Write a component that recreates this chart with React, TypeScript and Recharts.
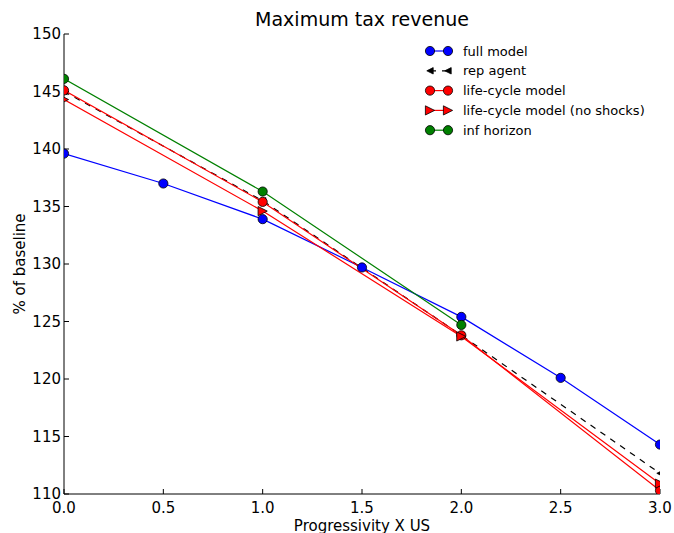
import React from "react";
import { LineChart, Line, XAxis, YAxis } from "recharts";

const xValues = [0, 0.5, 1, 1.5, 2, 2.5, 3];
const fullModel = [139.6, 137.0, 133.9, 129.7, 125.4, 120.1, 114.3];
const repAgent = [145.0, null, 135.5, null, 123.8, null, 111.8];
const lifeCycle = [145.1, null, 135.4, null, 123.8, null, 110.3];
const noShocks = [144.3, null, 134.6, null, 123.7, null, 110.9];
const infHorizon = [146.1, null, 136.3, null, 124.7, null, null];

const xTicks = [0, 0.5, 1, 1.5, 2, 2.5, 3];
const yTicks = [110, 115, 120, 125, 130, 135, 140, 145, 150];

const legendItems = [
  { name: "full model", color: "#0000ff", marker: "circle", dashed: false },
  { name: "rep agent", color: "#000000", marker: "left", dashed: true },
  { name: "life-cycle model", color: "#ff0000", marker: "circle", dashed: false },
  { name: "life-cycle model (no shocks)", color: "#ff0000", marker: "right", dashed: false },
  { name: "inf horizon", color: "#008000", marker: "circle", dashed: false },
];

const data = xValues.map((x, i) => ({
  x,
  full: fullModel[i],
  rep: repAgent[i],
  lc: lifeCycle[i],
  ns: noShocks[i],
  inf: infHorizon[i],
}));

const FONT = "DejaVu Sans, sans-serif";
const W = 674;
const H = 533;
// plot box layout
const M_TOP = 34;
const M_RIGHT = 14;
const Y_AXIS_W = 64;
const X_AXIS_H = 39;
const PLOT = { x: Y_AXIS_W, y: M_TOP, w: W - Y_AXIS_W - M_RIGHT, h: H - M_TOP - X_AXIS_H };

function Marker({ kind, cx, cy, color }: { kind: string; cx: number; cy: number; color: string }) {
  if (kind === "circle") {
    return <circle cx={cx} cy={cy} r={4.6} fill={color} stroke="#000" strokeWidth={0.8} />;
  }
  if (kind === "right") {
    const r = 4.6;
    return (
      <polygon
        points={`${cx + r},${cy} ${cx - r},${cy - r} ${cx - r},${cy + r}`}
        fill={color}
        stroke="#000"
        strokeWidth={0.8}
      />
    );
  }
  const r = 3.2;
  return (
    <polygon
      points={`${cx - r},${cy} ${cx + r},${cy - r} ${cx + r},${cy + r}`}
      fill={color}
      stroke="#000"
      strokeWidth={0.8}
    />
  );
}

// markers are clipped to the axes box, like matplotlib does
let dotSeq = 0;
const makeDot = (kind: string, color: string) => (props: any) => {
  const { cx, cy, key, payload, dataKey } = props;
  if (cx == null || cy == null || payload?.[dataKey] == null) return <g key={key} />;
  const id = `dotclip-${String(dataKey)}-${props.index ?? dotSeq++}`;
  return (
    <g key={key}>
      <defs>
        <clipPath id={id}>
          <rect x={PLOT.x} y={PLOT.y} width={PLOT.w} height={PLOT.h} />
        </clipPath>
      </defs>
      <g clipPath={`url(#${id})`}>
        <Marker kind={kind} cx={cx} cy={cy} color={color} />
      </g>
    </g>
  );
};

const XLabel = (props: any) => {
  const { viewBox } = props;
  return (
    <text x={viewBox.x + viewBox.width / 2} y={viewBox.y + 37} textAnchor="middle" fontSize={15} fontFamily={FONT} fill="#000">
      Progressivity X US
    </text>
  );
};

const YLabel = (props: any) => {
  const { viewBox } = props;
  const cx = viewBox.x + 20;
  const cy = viewBox.y + viewBox.height / 2;
  return (
    <text x={cx} y={cy} textAnchor="middle" dominantBaseline="central" transform={`rotate(-90 ${cx} ${cy})`} fontSize={15} fontFamily={FONT} fill="#000">
      % of baseline
    </text>
  );
};

const tickStyle = { fill: "#000", fontSize: 15, fontFamily: FONT };
const noTick = () => <g />;

function ChartLegend() {
  const rowTop = 51;
  const rowGap = 19.8;
  return (
    <svg width={W} height={H} style={{ position: "absolute", left: 0, top: 0, pointerEvents: "none" }}>
      {legendItems.map((item, i) => {
        const y = rowTop + i * rowGap;
        return (
          <g key={item.name}>
            <line x1={430} x2={448} y1={y} y2={y} stroke={item.color} strokeWidth={1.2} strokeDasharray={item.dashed ? "6 6" : undefined} />
            <Marker kind={item.marker} cx={430} cy={y} color={item.color} />
            <Marker kind={item.marker} cx={448} cy={y} color={item.color} />
            <text x={463} y={y} dominantBaseline="central" fontSize={13} fontFamily={FONT} fill="#000">
              {item.name}
            </text>
          </g>
        );
      })}
    </svg>
  );
}

export default function App() {
  return (
    <div style={{ position: "absolute", left: 0, top: 0, width: W, height: H, background: "#fff", fontFamily: FONT }}>
      <div style={{ position: "absolute", left: PLOT.x, width: PLOT.w, top: 7, textAlign: "center", fontSize: 19, lineHeight: "24px", color: "#000" }}>
        Maximum tax revenue
      </div>
      <LineChart width={W} height={H} data={data} margin={{ top: M_TOP, right: M_RIGHT, left: 0, bottom: 0 }}>
        <XAxis
          dataKey="x"
          type="number"
          domain={[0, 3]}
          ticks={xTicks}
          allowDataOverflow
          height={X_AXIS_H}
          tickSize={-5}
          tickMargin={13}
          tick={tickStyle}
          tickFormatter={(v: number) => v.toFixed(1)}
          stroke="#000"
          axisLine={{ stroke: "#000" }}
          tickLine={{ stroke: "#000" }}
          label={<XLabel />}
        />
        <XAxis
          xAxisId="top"
          orientation="top"
          dataKey="x"
          type="number"
          domain={[0, 3]}
          ticks={xTicks}
          height={0}
          tickSize={-5}
          tick={noTick}
          axisLine={{ stroke: "#000" }}
          tickLine={{ stroke: "#000" }}
        />
        <YAxis
          type="number"
          domain={[110, 150]}
          ticks={yTicks}
          allowDataOverflow
          width={Y_AXIS_W}
          tickSize={-5}
          tickMargin={8}
          tick={tickStyle}
          axisLine={{ stroke: "#000" }}
          tickLine={{ stroke: "#000" }}
          label={<YLabel />}
        />
        <YAxis
          yAxisId="right"
          orientation="right"
          type="number"
          domain={[110, 150]}
          ticks={yTicks}
          width={0}
          tickSize={-5}
          tick={noTick}
          axisLine={{ stroke: "#000" }}
          tickLine={{ stroke: "#000" }}
        />
        <Line dataKey="full" stroke="#0000ff" strokeWidth={1.2} connectNulls isAnimationActive={false} dot={makeDot("circle", "#0000ff")} />
        <Line dataKey="rep" stroke="#000" strokeWidth={1.2} strokeDasharray="6 6" connectNulls isAnimationActive={false} dot={makeDot("left", "#000")} />
        <Line dataKey="lc" stroke="#ff0000" strokeWidth={1.2} connectNulls isAnimationActive={false} dot={makeDot("circle", "#ff0000")} />
        <Line dataKey="ns" stroke="#ff0000" strokeWidth={1.2} connectNulls isAnimationActive={false} dot={makeDot("right", "#ff0000")} />
        <Line dataKey="inf" stroke="#008000" strokeWidth={1.2} connectNulls isAnimationActive={false} dot={makeDot("circle", "#008000")} />
      </LineChart>
      <ChartLegend />
    </div>
  );
}
